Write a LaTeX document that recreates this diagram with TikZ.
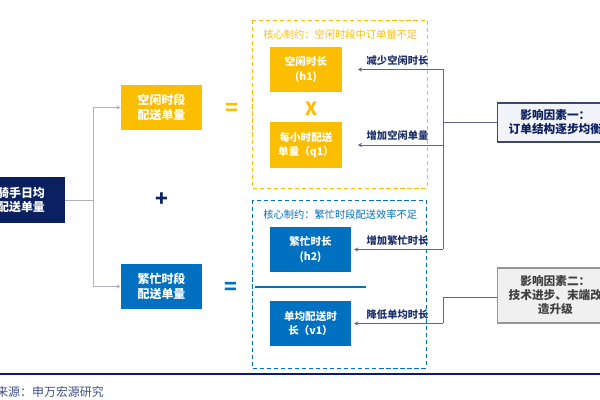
\documentclass[tikz,border=0pt]{standalone}
\usepackage{fontspec}
\setmainfont{Noto Sans CJK SC}
\usetikzlibrary{arrows.meta,positioning,calc}
\definecolor{navy}{RGB}{10,32,96}
\definecolor{ylw}{RGB}{252,190,0}
\definecolor{blu}{RGB}{0,112,192}
\definecolor{lbltxt}{RGB}{28,48,108}
\definecolor{treeln}{RGB}{175,178,190}
\definecolor{brkln}{RGB}{95,105,135}
\definecolor{fac1bdr}{RGB}{60,72,115}
\definecolor{fac1fill}{RGB}{242,244,249}
\definecolor{fac2bdr}{RGB}{150,150,150}
\definecolor{fac2fill}{RGB}{240,240,240}
\definecolor{srctxt}{RGB}{60,80,135}
\tikzset{
  rootblk/.style={rectangle,fill=navy,draw=none,text=white,
    minimum width=2.175cm,minimum height=1.125cm,
    font=\fontsize{8.5}{10.5}\selectfont\bfseries,align=center,inner sep=2pt},
  yblk/.style={rectangle,fill=ylw,draw=none,text=white,
    minimum width=2.025cm,minimum height=1.125cm,
    font=\fontsize{8.5}{10.5}\selectfont\bfseries,align=center,inner sep=2pt},
  bblk/.style={yblk,fill=blu},
  sblk/.style={rectangle,draw=none,text=white,
    minimum width=1.8cm,minimum height=1.125cm,
    font=\fontsize{7.5}{10}\selectfont\bfseries,align=center,inner sep=2pt},
  grpbox/.style={draw=#1,line width=0.7pt,dash pattern=on 3pt off 2pt},
  ttl/.style={font=\fontsize{7.3}{9}\selectfont,text=#1,anchor=west,inner sep=0pt},
  lbl/.style={font=\fontsize{7.3}{9}\selectfont\bfseries,text=lbltxt,
    anchor=south east,inner sep=1pt},
  fblk/.style={rectangle,line width=0.8pt,align=center,
    font=\fontsize{8.3}{10}\selectfont\bfseries,inner sep=2pt},
  op/.style={font=\fontsize{15}{15}\selectfont\bfseries,text=#1,inner sep=0pt},
  tarr/.style={-{Stealth[length=3pt,width=3pt]},line width=0.5pt,color=treeln},
  barr/.style={-{Stealth[length=3pt,width=3pt]},line width=0.6pt,color=brkln},
  bln/.style={line width=0.6pt,color=brkln},
}
\begin{document}
\begin{tikzpicture}[x=0.025cm,y=-0.025cm]
  \useasboundingbox (0,0) rectangle (600,400);

  %% Root and first split
  \node[rootblk] (root) at (21,200) {骑手日均\\配送单量};
  \node[yblk] (idle) at (161.5,107.5) {空闲时段\\配送单量};
  \node[bblk] (busy) at (161.5,286.5) {繁忙时段\\配送单量};
  \coordinate (split) at (93,200);
  \draw[tarr,-] (root.east) -- (split);
  \draw[tarr] (split) |- (idle.west);
  \draw[tarr] (split) |- (busy.west);
  \node[op=navy] (plus) at (162,200) {+};
  \node[op=ylw] (eqy) at (232,109) {=};
  \node[op=blu] (eqb) at (231,288) {=};

  %% Idle group
  \draw[grpbox=ylw] (252,20) rectangle (427,188);
  \node[ttl=ylw] (ttly) at (263,35) {核心制约：空闲时段中订单量不足};
  \node[sblk,fill=ylw] (h1) at (306,69.5) {空闲时长\\(h1)};
  \node[sblk,fill=ylw] (q1) at (306,145) {每小时配送\\单量（q1）};
  \node[op=ylw,font=\fontsize{13}{13}\selectfont\bfseries] (mul) at (312,109) {X};

  %% Busy group
  \draw[grpbox=blu] (252,200) rectangle (426,368);
  \node[ttl=blu] (ttlb) at (263,215) {核心制约：繁忙时段配送效率不足};
  \node[sblk,fill=blu,minimum width=2.025cm] (h2) at (310.5,249.5) {繁忙时长\\(h2)};
  \node[sblk,fill=blu,minimum width=2.025cm] (v1) at (310.5,323.5) {单均配送时\\长（v1）};
  \draw[blu,line width=1.4pt] (255,287) -- (366,287);

  %% Factors
  \node[fblk,draw=fac1bdr,fill=fac1fill,text=navy,minimum height=0.975cm,
        text width=2.75cm,anchor=west] (fac1) at (497,122.5)
        {影响因素一：\\订单结构逐步均衡};
  \node[fblk,draw=fac2bdr,fill=fac2fill,text=black!75,minimum height=1.375cm,
        text width=2.75cm,anchor=west] (fac2) at (497,295.5)
        {影响因素二：\\技术进步、末端改\\造升级};

  %% Brackets to boxes
  \coordinate (b1top) at (443,69.5);
  \coordinate (b1bot) at (443,249.5);
  \coordinate (b2top) at (443,297);
  \coordinate (b2bot) at (443,323.5);
  \draw[bln] (b1top) -- (b1bot);
  \draw[bln] (fac1.west) -- (fac1.west -| b1top);
  \draw[bln] (b2top) -- (b2bot);
  \draw[bln] (fac2.west |- b2top) -- (b2top);
  \draw[barr,shorten >=11pt] (b1top) -- (h1.east);
  \draw[barr,shorten >=11pt] (b1top |- q1) -- (q1.east);
  \draw[barr,shorten >=2pt] (b1bot) -- (h2.east);
  \draw[barr,shorten >=2pt] (b2bot) -- (v1.east);
  \node[lbl] (l1) at (430,67) {减少空闲时长};
  \node[lbl] (l2) at (430,142) {增加空闲单量};
  \node[lbl] (l3) at (430,247) {增加繁忙时长};
  \node[lbl] (l4) at (430,321) {降低单均时长};

  %% Source
  \draw[navy!85!blue,line width=1.4pt] (0,374) -- (600,374);
  \node[font=\fontsize{8.5}{10}\selectfont,text=srctxt,anchor=west,inner sep=0pt]
    (src) at (-4,392) {来源：申万宏源研究};
\end{tikzpicture}
\end{document}
